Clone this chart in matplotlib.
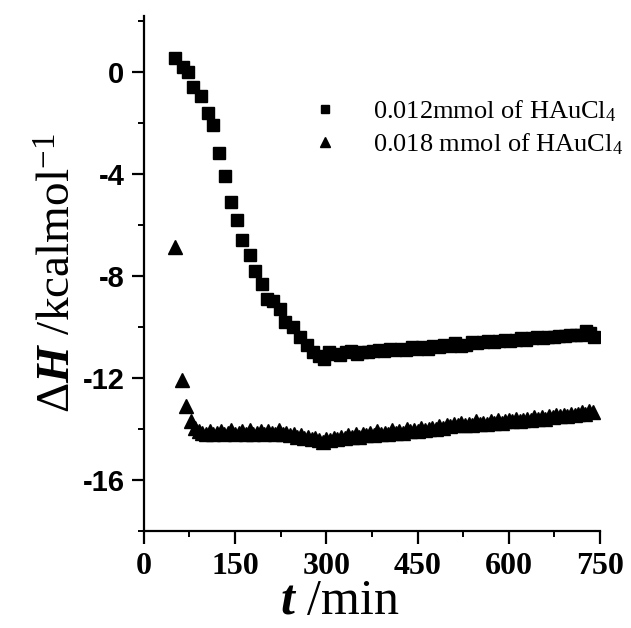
import matplotlib
matplotlib.use("Agg")
import matplotlib.pyplot as plt
from matplotlib.ticker import MultipleLocator

plt.rcParams['font.family'] = ['Liberation Serif', 'DejaVu Serif']
plt.rcParams['axes.unicode_minus'] = False
plt.rcParams['mathtext.fontset'] = 'custom'
plt.rcParams['mathtext.rm'] = 'Liberation Serif'
plt.rcParams['mathtext.it'] = 'Liberation Serif:italic:bold'
plt.rcParams['mathtext.bf'] = 'Liberation Serif:bold'

# 0.012 mmol HAuCl4 run
t_a = [52, 64, 72, 81, 94, 105, 113, 123, 133, 143, 153, 162, 175, 183, 195,
       202, 212, 224, 232, 245, 256, 268, 278, 288, 296, 305, 314, 323, 332,
       341, 350, 359, 368, 377, 386, 395, 404, 413, 422, 431, 440, 449, 458,
       467, 476, 485, 494, 503, 512, 521, 530, 539, 548, 557, 566, 575, 584,
       593, 602, 611, 620, 629, 638, 647, 656, 665, 674, 683, 692, 701, 710,
       719, 727, 733, 740]
dh_a = [0.56, 0.18, 0.0, -0.6, -0.95, -1.6, -2.1, -3.2, -4.1, -5.1, -5.8,
        -6.6, -7.2, -7.8, -8.3, -8.9, -9.0, -9.3, -9.8, -10.0, -10.4, -10.7,
        -11.0, -11.15, -11.25, -11.0, -11.05, -11.1, -11.0, -10.95, -11.05,
        -11.0, -11.0, -10.95, -10.9, -10.95, -10.85, -10.9, -10.85, -10.9,
        -10.8, -10.85, -10.8, -10.85, -10.75, -10.8, -10.7, -10.75, -10.65,
        -10.75, -10.7, -10.6, -10.65, -10.6, -10.55, -10.6, -10.55, -10.5,
        -10.55, -10.5, -10.45, -10.5, -10.45, -10.4, -10.45, -10.4, -10.4,
        -10.35, -10.35, -10.3, -10.3, -10.3, -10.15, -10.25, -10.4]

# 0.018 mmol HAuCl4 run
t_b = [52, 62, 70, 78, 84, 90, 96, 102, 108, 114, 120, 126, 132, 138, 144,
       150, 156, 162, 168, 174, 180, 186, 192, 198, 204, 210, 216, 222, 228,
       234, 240, 246, 252, 258, 264, 270, 276, 282, 288, 294, 300, 306, 312,
       318, 324, 330, 336, 342, 348, 354, 360, 366, 372, 378, 384, 390, 396,
       402, 408, 414, 420, 426, 432, 438, 444, 450, 456, 462, 468, 474, 480,
       486, 492, 498, 504, 510, 516, 522, 528, 534, 540, 546, 552, 558, 564,
       570, 576, 582, 588, 594, 600, 606, 612, 618, 624, 630, 636, 642, 648,
       654, 660, 666, 672, 678, 684, 690, 696, 702, 708, 714, 720, 726, 732,
       738]
dh_b = [-6.85, -12.1, -13.1, -13.7, -13.95, -14.1, -14.15, -14.2, -14.1,
        -14.2, -14.15, -14.1, -14.2, -14.15, -14.05, -14.2, -14.15, -14.1,
        -14.2, -14.05, -14.2, -14.15, -14.1, -14.2, -14.1, -14.15, -14.2,
        -14.05, -14.2, -14.15, -14.25, -14.2, -14.3, -14.25, -14.35, -14.3,
        -14.4, -14.35, -14.45, -14.5, -14.4, -14.45, -14.35, -14.4, -14.3,
        -14.35, -14.25, -14.3, -14.2, -14.3, -14.2, -14.25, -14.15, -14.25,
        -14.1, -14.2, -14.15, -14.2, -14.05, -14.15, -14.1, -14.15, -14.0,
        -14.1, -14.05, -14.1, -13.95, -14.05, -14.0, -13.95, -14.0, -13.9,
        -13.95, -13.85, -13.9, -13.8, -13.85, -13.75, -13.85, -13.8, -13.85,
        -13.7, -13.8, -13.75, -13.8, -13.7, -13.75, -13.65, -13.75, -13.7,
        -13.65, -13.7, -13.6, -13.7, -13.65, -13.6, -13.65, -13.55, -13.6,
        -13.55, -13.6, -13.5, -13.55, -13.45, -13.5, -13.45, -13.5, -13.4,
        -13.45, -13.4, -13.35, -13.4, -13.3, -13.35]

labels = ["0.012mmol of HAuCl$_4$", "0.018 mmol of HAuCl$_4$"]
x_ticks = [0, 150, 300, 450, 600, 750]
y_ticks = [0, -4, -8, -12, -16]

fig = plt.figure(figsize=(6.31, 6.28), dpi=100)
ax = fig.add_axes([0.228, 0.1545, 0.723, 0.8205])

ax.plot(t_a, dh_a, 's', color='black', markersize=8, label=labels[0])
ax.plot(t_b, dh_b, '^', color='black', markersize=10.5, label=labels[1])

ax.set_xlim(0, 750)
ax.set_ylim(-18, 2.2)
ax.set_xticks(x_ticks)
ax.set_yticks(y_ticks)
ax.xaxis.set_minor_locator(MultipleLocator(75))
ax.yaxis.set_minor_locator(MultipleLocator(2))

for side in ['top', 'right']:
    ax.spines[side].set_visible(False)
for side in ['left', 'bottom']:
    ax.spines[side].set_linewidth(1.6)

ax.tick_params(which='major', direction='out', length=9, width=1.6)
ax.tick_params(which='minor', direction='out', length=4.5, width=1.4)
ax.tick_params(axis='x', pad=6)
ax.tick_params(axis='y', pad=5)
for lab in ax.get_xticklabels():
    lab.set_fontsize(23)
    lab.set_fontweight('bold')
for lab in ax.get_yticklabels():
    lab.set_fontsize(21)
    lab.set_fontweight('bold')
    lab.set_family('Liberation Sans')

ax.set_xlabel("$t$ /min", fontsize=36)
ax.xaxis.set_label_coords(0.43, -0.093)
ax.set_ylabel("$\\Delta H$ /kcalmol$^{-1}$", fontsize=34)
ax.yaxis.set_label_coords(-0.138, 0.5)

ax.legend(loc='upper left', bbox_to_anchor=(0.34, 0.84), frameon=False,
          fontsize=19, handletextpad=0.8, labelspacing=0.3, markerscale=0.7,
          borderaxespad=0, borderpad=0)

fig.savefig("out.png", dpi=100)
